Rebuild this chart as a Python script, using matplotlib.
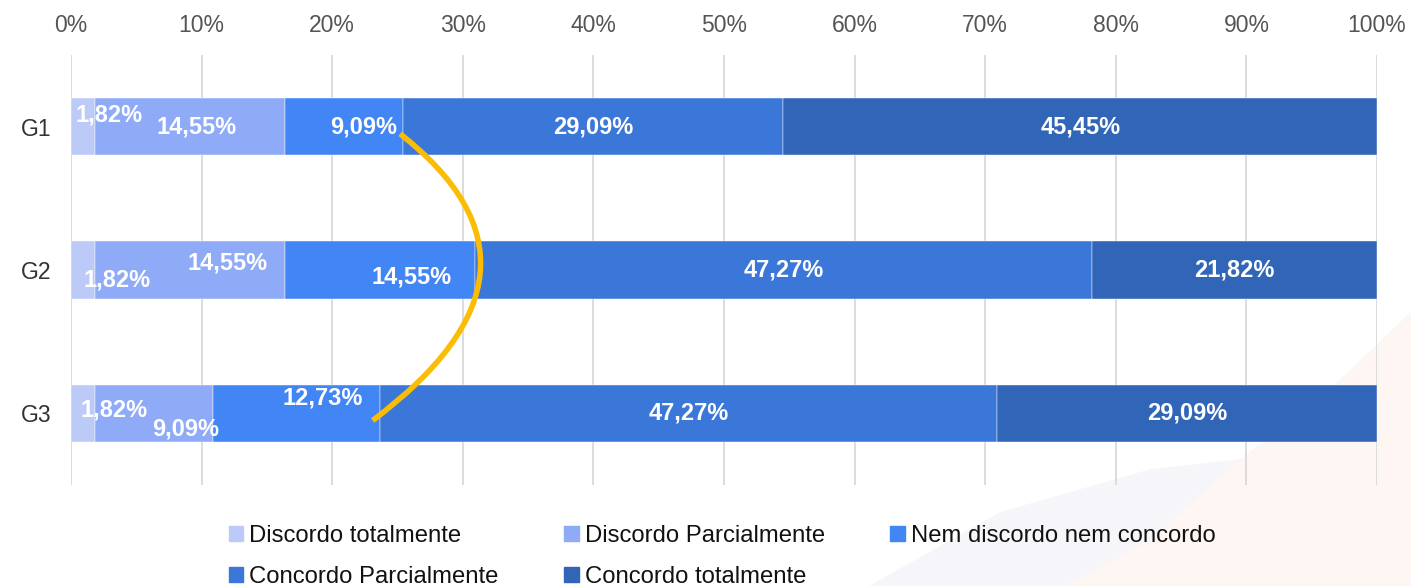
import matplotlib.pyplot as plt
import numpy as np
from matplotlib.patches import Patch, PathPatch, Polygon
from matplotlib.path import Path

plt.rcParams['font.family'] = ['Liberation Sans', 'DejaVu Sans']

groups = ["G1", "G2", "G3"]
categories = ["Discordo totalmente", "Discordo Parcialmente", "Nem discordo nem concordo",
              "Concordo Parcialmente", "Concordo totalmente"]
values = {
    "G1": [1.82, 14.55, 9.09, 29.09, 45.45],
    "G2": [1.82, 14.55, 14.55, 47.27, 21.82],
    "G3": [1.82, 9.09, 12.73, 47.27, 29.09],
}
colors = ["#bccaf8", "#8fabf7", "#4285f4", "#3b77d9", "#3065b8"]
ticks = np.arange(0, 101, 10)

# label shifts (x in %, y in bar units) where labels don't sit centered
label_dx = {
    "G1": [2.0, 0.5, 1.5, 0, 0],
    "G2": [2.6, 2.9, 2.4, 0, 0],
    "G3": [2.4, 2.4, 2.0, 0, 0],
}
label_dy = {
    "G1": [-0.08, 0, 0, 0, 0],
    "G2": [0.07, -0.05, 0.05, 0, 0],
    "G3": [-0.02, 0.11, -0.11, 0, 0],
}

# hand-drawn yellow annotation curve (x in %, y in bar index)
curve_pts = [(25.2, 0.05), (38.5, 1.0), (23.1, 2.05)]

fig = plt.figure(figsize=(14.11, 5.86), dpi=100)

# faint background shapes (slide decoration)
fig.patches.append(Polygon([(0.617, 0.0), (0.709, 0.125), (0.815, 0.198), (0.879, 0.215),
                            (0.815, 0.0785), (0.756, 0.0)],
                           closed=True, transform=fig.transFigure, color="#f6f5f9", zorder=-2))
fig.patches.append(Polygon([(0.756, 0.0), (0.815, 0.0785), (0.879, 0.215), (0.945, 0.34),
                            (1.0, 0.466), (1.0, 0.0)],
                           closed=True, transform=fig.transFigure, color="#fdf6f3", zorder=-1))

ax = fig.add_axes([0.0503, 0.1724, 0.9256, 0.7338])
ax.patch.set_alpha(0)

y = np.arange(len(groups))
for gi, g in enumerate(groups):
    left = 0
    for ci, v in enumerate(values[g]):
        ax.barh(gi, v, left=left, height=0.4, color=colors[ci], edgecolor="#ffffff",
                linewidth=0.3, zorder=2)
        ax.text(left + v / 2 + label_dx[g][ci], gi + label_dy[g][ci],
                f"{v:.2f}%".replace(".", ","), ha="center", va="center",
                color="white", fontsize=17, fontweight="bold", zorder=3)
        left += v

ax.set_xlim(0, 100)
ax.set_ylim(2.5, -0.5)
ax.set_xticks(ticks)
ax.set_xticklabels([f"{t}%" for t in ticks])
ax.xaxis.tick_top()
ax.set_yticks(y)
ax.set_yticklabels(groups)
ax.tick_params(axis="x", length=0, pad=13, labelsize=16.5, labelcolor="#555555")
ax.tick_params(axis="y", length=0, pad=14, labelsize=16.5, labelcolor="#333333")
ax.grid(axis="x", color="#d9d9d9", linewidth=1.3, zorder=0)
ax.set_axisbelow(True)
for s in ax.spines.values():
    s.set_visible(False)

path = Path(curve_pts, [Path.MOVETO, Path.CURVE3, Path.CURVE3])
ax.add_patch(PathPatch(path, facecolor="none", edgecolor="#fbbc04", linewidth=4,
                       capstyle="butt", zorder=4))

handles = [Patch(color=c, label=l) for c, l in zip(colors, categories)]
order = [0, 3, 1, 4, 2]
fig.legend([handles[i] for i in order], [categories[i] for i in order],
           loc="lower left", bbox_to_anchor=(0.147, -0.04), ncol=3, frameon=False,
           fontsize=17.2, handlelength=0.6, handleheight=0.6, handletextpad=0.25,
           columnspacing=2.75, labelspacing=0.8, labelcolor="#111111")

fig.savefig("out.png", dpi=100)
